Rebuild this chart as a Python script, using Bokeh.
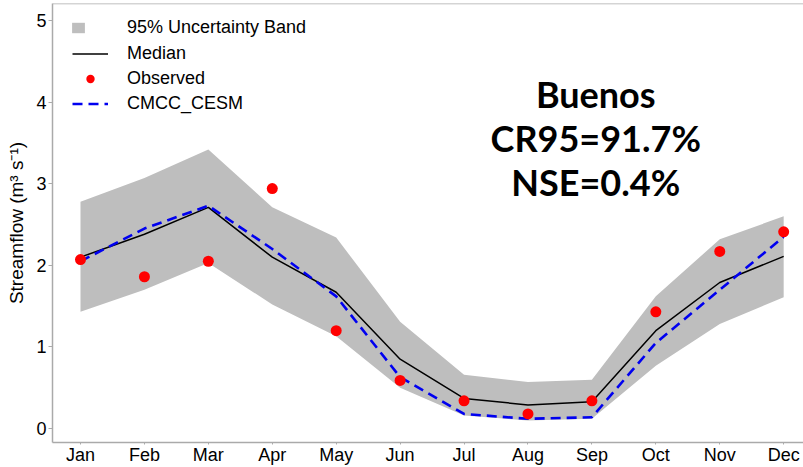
from bokeh.plotting import figure
from bokeh.models import (ColumnDataSource, FixedTicker, Legend, LegendItem,
                          Label, Span, Range1d)
from bokeh.embed import file_html
from bokeh.resources import INLINE

# ---- data ----
months = ["Jan", "Feb", "Mar", "Apr", "May", "Jun",
          "Jul", "Aug", "Sep", "Oct", "Nov", "Dec"]
month_num = [1, 2, 3, 4, 5, 6, 7, 8, 9, 10, 11, 12]
band_upper = [2.78, 3.07, 3.42, 2.71, 2.34, 1.31, 0.66, 0.57, 0.60, 1.62, 2.32, 2.60]
band_lower = [1.43, 1.70, 2.03, 1.52, 1.13, 0.50, 0.16, 0.10, 0.12, 0.77, 1.28, 1.61]
median = [2.10, 2.38, 2.71, 2.10, 1.67, 0.85, 0.37, 0.29, 0.33, 1.20, 1.79, 2.11]
cmcc_cesm = [2.05, 2.45, 2.73, 2.20, 1.62, 0.63, 0.18, 0.12, 0.14, 1.05, 1.70, 2.35]
observed = [2.07, 1.86, 2.05, 2.94, 1.20, 0.59, 0.34, 0.18, 0.34, 1.43, 2.17, 2.41]
y_ticks = [0, 1, 2, 3, 4, 5]
annotation_lines = ["Buenos", "CR95=91.7%", "NSE=0.4%"]

src = ColumnDataSource(dict(x=month_num, upper=band_upper, lower=band_lower,
                            median=median, cmcc=cmcc_cesm, obs=observed))

W, H = 803, 467
TOP, BOTTOM, LEFT = 3, 23, 52
Y0, Y1 = -0.17, 5.207
p = figure(width=W, height=H, output_backend="svg", toolbar_location=None,
           x_range=Range1d(0.562, 12.31), y_range=Range1d(Y0, Y1),
           min_border_left=LEFT, min_border_right=0, min_border_top=TOP,
           min_border_bottom=BOTTOM)
p.outline_line_color = None
p.grid.visible = False
p.background_fill_color = "white"
p.border_fill_color = "white"

band = p.varea(x="x", y1="lower", y2="upper", source=src, fill_color="#BEBEBE")
med = p.line("x", "median", source=src, line_color="black", line_width=1.5)
cm = p.line("x", "cmcc", source=src, line_color="#0000F0", line_width=2.6,
            line_dash="10 6")
obs = p.scatter("x", "obs", source=src, size=11, fill_color="#FF0000",
                line_color=None)

# top frame border
p.add_layout(Span(location=Y1, dimension="width", line_color="#AAAAAA",
                  line_width=1.5))

FONT = "Liberation Sans"
for ax in (p.xaxis[0], p.yaxis[0]):
    ax.axis_line_color = "#AAAAAA"
    ax.axis_line_width = 1.5
    ax.major_tick_line_color = "#AAAAAA"
    ax.minor_tick_line_color = None
    ax.major_tick_in = 0
    ax.major_label_text_font = FONT
    ax.major_label_text_font_size = "18px"
    ax.major_label_text_color = "black"

p.xaxis.ticker = FixedTicker(ticks=month_num)
p.xaxis.major_label_overrides = {m: s for m, s in zip(month_num, months)}
p.xaxis.major_tick_out = 2
p.xaxis.major_label_standoff = 0

p.yaxis.ticker = FixedTicker(ticks=y_ticks)
p.yaxis.major_tick_out = 4
p.yaxis.major_label_standoff = 2
p.yaxis.axis_label = "Streamflow (m\u00b3 s\u207b\u00b9)"
p.yaxis.axis_label_text_font = FONT
p.yaxis.axis_label_text_font_size = "19px"
p.yaxis.axis_label_text_font_style = "normal"
p.yaxis.axis_label_text_color = "black"
p.yaxis.axis_label_standoff = 6

# legends
FRAME_H = H - TOP - BOTTOM
leg1 = Legend(items=[LegendItem(label="95% Uncertainty Band", renderers=[band])],
              location=(18, FRAME_H - 16 - 21), glyph_width=16, glyph_height=13,
              label_height=21, padding=0, margin=0, label_standoff=41,
              spacing=0)
leg2 = Legend(items=[LegendItem(label="Median", renderers=[med]),
                     LegendItem(label="Observed", renderers=[obs]),
                     LegendItem(label="CMCC_CESM", renderers=[cm])],
              location=(20, FRAME_H - 42 - 71), glyph_width=36, glyph_height=21,
              label_height=21, padding=0, margin=0, label_standoff=19,
              spacing=4)
for lg in (leg1, leg2):
    lg.border_line_color = None
    lg.background_fill_alpha = 0
    lg.label_text_font = FONT
    lg.label_text_font_size = "18px"
    lg.label_text_color = "black"
    p.add_layout(lg)

for txt, yv in zip(annotation_lines, [4.10, 3.56, 3.02]):
    p.add_layout(Label(x=9.06, y=yv, text=txt, text_font="Lato",
                       text_font_style="bold", text_font_size="36px",
                       text_align="center", text_baseline="alphabetic",
                       text_color="black"))

open("out.html", "w").write(file_html(p, INLINE))
